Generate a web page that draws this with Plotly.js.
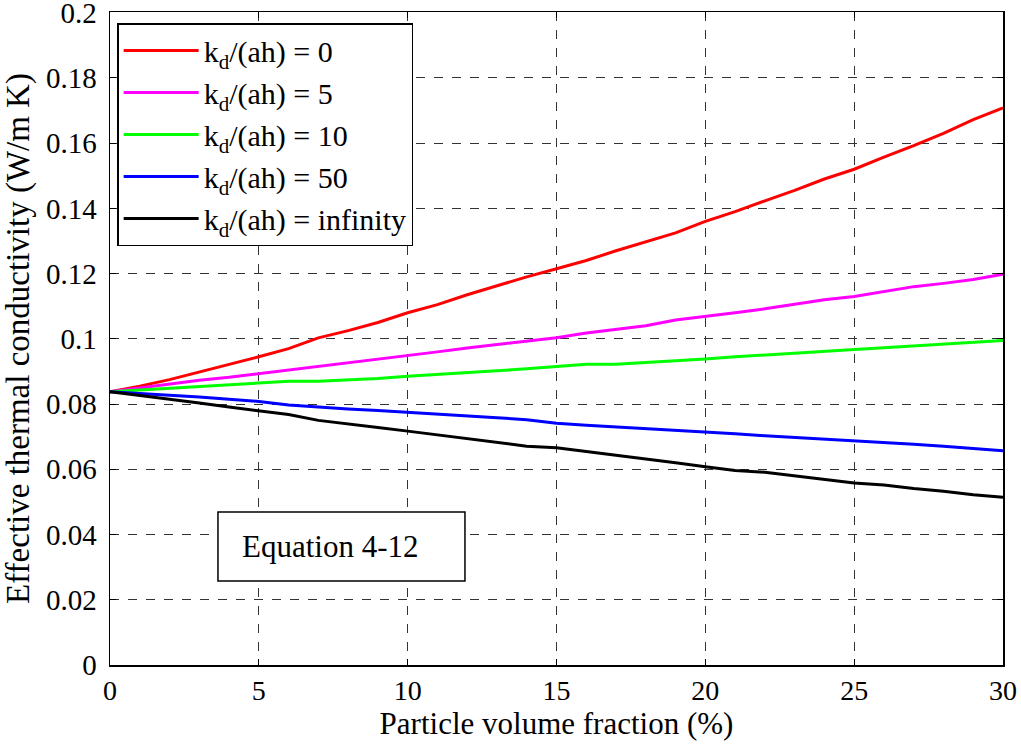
<!DOCTYPE html>
<html>
<head>
<meta charset="utf-8">
<script src="https://cdn.plot.ly/plotly-3.0.1.min.js"></script>
<style>
html,body{margin:0;padding:0;background:#fff;}
#chart{width:1021px;height:746px;}
</style>
</head>
<body>
<div id="chart"></div>
<script>
const xVals = [0,1,2,3,4,5,6,7,8,9,10,11,12,13,14,15,16,17,18,19,20,21,22,23,24,25,26,27,28,29,30];
const kd0 = [0.0838,0.0855,0.0875,0.0898,0.092,0.0945,0.097,0.1003,0.1025,0.105,0.108,0.1105,0.1135,0.1163,0.119,0.1215,0.124,0.127,0.1298,0.1325,0.136,0.139,0.1423,0.1455,0.149,0.152,0.1557,0.1592,0.163,0.1672,0.1708];
const kd5 = [0.0838,0.085,0.0862,0.0873,0.0882,0.0893,0.0905,0.0915,0.0925,0.0937,0.0948,0.096,0.0972,0.0983,0.0993,0.1003,0.1018,0.1028,0.104,0.1058,0.1068,0.108,0.1092,0.1105,0.112,0.113,0.1145,0.116,0.117,0.1182,0.1198];
const kd10 = [0.0838,0.0843,0.0848,0.0853,0.0858,0.0863,0.087,0.087,0.0873,0.0878,0.0885,0.089,0.0896,0.0902,0.0908,0.0914,0.0922,0.0922,0.0927,0.0932,0.0938,0.0945,0.095,0.0956,0.0962,0.0967,0.0973,0.0978,0.0984,0.099,0.0995];
const kd50 = [0.0838,0.0833,0.0828,0.0822,0.0815,0.0808,0.0797,0.079,0.0785,0.078,0.0775,0.077,0.0764,0.0758,0.0752,0.0741,0.0735,0.073,0.0726,0.0721,0.0714,0.0709,0.0703,0.0698,0.0693,0.0688,0.0684,0.0677,0.0671,0.0665,0.0657];
const kdInf = [0.0838,0.0827,0.0815,0.0803,0.0791,0.0779,0.0768,0.075,0.074,0.0728,0.0717,0.0705,0.0693,0.0682,0.0671,0.0666,0.0655,0.0643,0.0632,0.062,0.0608,0.0596,0.0591,0.058,0.0569,0.0558,0.0552,0.0541,0.0533,0.0522,0.0514];

const seriesNames = ["k<sub>d</sub>/(ah) = 0","k<sub>d</sub>/(ah) = 5","k<sub>d</sub>/(ah) = 10","k<sub>d</sub>/(ah) = 50","k<sub>d</sub>/(ah) = infinity"];
const seriesData = [kd0, kd5, kd10, kd50, kdInf];
const colors = ["#ff0000","#ff00ff","#00ff00","#0000ff","#000000"];
const yTicks = [0,0.02,0.04,0.06,0.08,0.1,0.12,0.14,0.16,0.18,0.2];
const yTickText = ["0","0.02","0.04","0.06","0.08","0.1","0.12","0.14","0.16","0.18","0.2"];
const boxLabel = "Equation 4-12";

const traces = seriesData.map((ys, i) => ({
  x: xVals, y: ys, type: "scatter", mode: "lines", name: seriesNames[i],
  line: {color: colors[i], width: 3}
}));

function f(size) { return {family: "Times New Roman", size: size, color: "#000"}; }

const layout = {
  width: 1021, height: 746,
  margin: {l: 110, r: 18, t: 12, b: 81},
  paper_bgcolor: "#fff", plot_bgcolor: "#fff",
  font: f(28),
  showlegend: true,
  legend: {
    x: 0.008, y: 0.983, xanchor: "left", yanchor: "top",
    bgcolor: "#fff", bordercolor: "#000", borderwidth: 1.5,
    font: f(30), itemwidth: 75, tracegroupgap: 0
  },
  xaxis: {
    range: [0, 30], dtick: 5, tick0: 0,
    showgrid: true, gridcolor: "#333", griddash: "dash", gridwidth: 1,
    zeroline: false, showline: true, linecolor: "#000", linewidth: 1.5, mirror: "ticks",
    ticks: "inside", ticklen: 6, tickcolor: "#000", ticklabeloverflow: "allow",
    tickfont: f(28),
    title: {text: "Particle volume fraction (%)", font: f(31), standoff: 4}
  },
  yaxis: {
    range: [0, 0.2002], tickmode: "array", tickvals: yTicks, ticktext: yTickText,
    showgrid: true, gridcolor: "#333", griddash: "dash", gridwidth: 1,
    zeroline: false, showline: true, linecolor: "#000", linewidth: 1.5, mirror: "ticks",
    ticks: "inside", ticklen: 6, tickcolor: "#000", ticklabelstandoff: 6, ticklabeloverflow: "allow",
    tickfont: f(29),
    title: {text: "Effective thermal conductivity (W/m K)", font: f(33), standoff: 6}
  },
  shapes: [{
    type: "rect", xref: "paper", yref: "paper",
    x0: 0.1209, x1: 0.3975, y0: 0.1286, y1: 0.2343,
    line: {color: "#000", width: 1.5}, fillcolor: "#fff", layer: "above"
  }],
  annotations: [{
    x: 0.2464, y: 0.1822, xref: "paper", yref: "paper",
    xanchor: "center", yanchor: "middle",
    text: boxLabel, showarrow: false, font: f(31)
  }]
};

Plotly.newPlot("chart", traces, layout, {displayModeBar: false, staticPlot: true});
</script>
</body>
</html>
